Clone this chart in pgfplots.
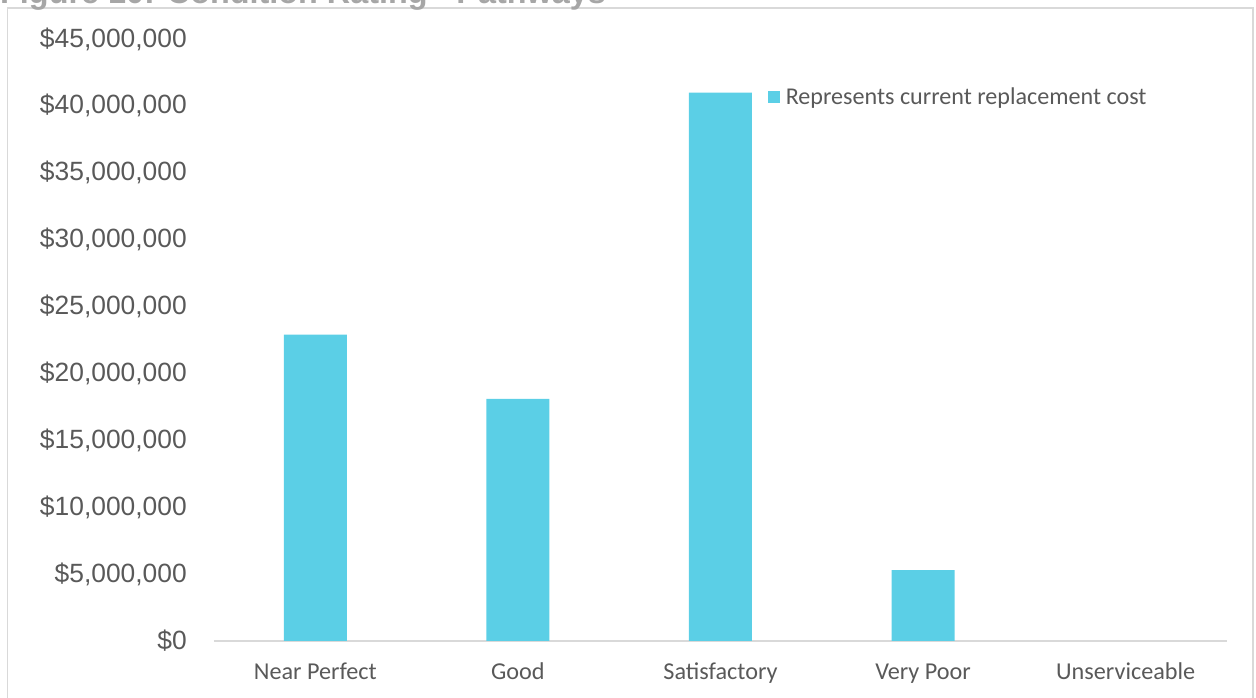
\documentclass[border=0pt]{standalone}
\usepackage{pgfplots}
\pgfplotsset{compat=1.18}
\usepackage{fontspec}
\setmainfont{Liberation Sans}
\newfontfamily\calibri{Carlito}
\definecolor{barc}{RGB}{91,207,230}
\definecolor{txt}{RGB}{89,89,89}
\definecolor{gridc}{RGB}{217,217,217}
\definecolor{titc}{RGB}{166,166,166}
\begin{document}
\begin{tikzpicture}
\useasboundingbox (-214bp,-57bp) rectangle (1042bp,641bp);
\draw[gridc, line width=1.5bp] (-206.5bp,-80bp) -- (-206.5bp,633bp) -- (1039bp,633bp) -- (1039bp,-80bp);
\node[anchor=base west, inner sep=0pt, text=titc, font=\bfseries\fontsize{32.5}{36}\selectfont] at (-214bp,637bp) {Figure 10: Condition Rating - Pathways};
\begin{axis}[
  at={(0,0)}, anchor=south west,
  scale only axis, width=1013bp, height=602bp,
  ymin=0, ymax=45000000,
  xmin=-0.5, xmax=4.5,
  ytick={0,5000000,10000000,15000000,20000000,25000000,30000000,35000000,40000000,45000000},
  scaled y ticks=false,
  xtick=data,
  xticklabels={Near Perfect,Good,Satisfactory,Very Poor,Unserviceable},
  axis y line*=left,
  y axis line style={draw=none},
  axis x line*=bottom,
  x axis line style={gridc, line width=2bp, -},
  major tick length=0pt,
  yticklabel={\$\pgfmathprintnumber[fixed,precision=0,1000 sep={,},assume math mode=true]{\tick}},
  yticklabel style={anchor=east, inner sep=0pt, xshift=-27bp, text=txt, font=\fontsize{26.5}{30}\selectfont},
  xticklabel style={anchor=base, inner sep=0pt, yshift=-38bp, text=txt, font=\calibri\fontsize{24.3}{27}\selectfont},
  legend style={at={(0.5465,0.923)}, anchor=north west, draw=none, fill=none, font=\calibri\fontsize{24.2}{26}\selectfont, text=txt, inner sep=0pt},
  legend image code/.code={\fill[barc] (0bp,-6bp) rectangle (12bp,6bp); \path (16bp,0bp);},
]
\addplot[ybar, bar width=63bp, fill=barc, draw=none] coordinates {(0,22900000) (1,18100000) (2,41000000) (3,5300000) (4,0)};
\addlegendentry{Represents current replacement cost}
\end{axis}
\end{tikzpicture}
\end{document}
